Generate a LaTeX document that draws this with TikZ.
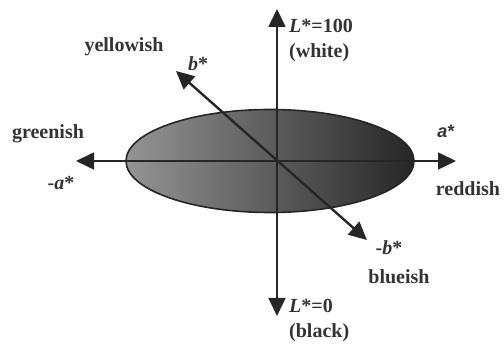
\documentclass[tikz,border=0pt]{standalone}
\usepackage{fontspec}
\setmainfont{Liberation Serif}
\setsansfont{Liberation Sans}
\usepackage{tikz}
\usetikzlibrary{arrows.meta,positioning}

\begin{document}
\begin{tikzpicture}[
  x=1pt,y=-1pt,
  font=\bfseries\fontsize{20}{25}\selectfont,
  axis/.style={line width=1.6pt,draw=black!85,{Triangle[length=18pt,width=17pt]}-{Triangle[length=18pt,width=17pt]}},
  diag/.style={axis,line width=2.4pt},
  disc/.style={draw=black!85,line width=1.6pt,left color=black!42,middle color=black!30,right color=black!85},
  lbl/.style={inner sep=0pt,text=black!80},
  tag/.style={lbl,anchor=west,align=left}
]
\useasboundingbox (0,0) rectangle (504,347);

% ---------------- the colour disc
\coordinate (o) at (277,161);
\draw[disc] (270,161) ellipse [x radius=144pt, y radius=51.5pt];

% ---------------- axis ends
\coordinate (ltop) at (277,9);
\coordinate (lbot) at (277,316);
\coordinate (aneg) at (76,161);
\coordinate (apos) at (456,161);
\coordinate (bpos) at (176,71);
\coordinate (bneg) at (367,240);

% ---------------- axes
\draw[axis] (lbot) -- (ltop);
\draw[axis] (aneg) -- (apos);
\draw[diag] (bneg) -- (bpos);

% ---------------- labels
\node[tag] (lw) at (289,40) {\textit{L}*=100\\(white)};
\node[tag] (lk) at (289,320) {\textit{L}*=0\\(black)};
\node[lbl] (yel) at (124,47) {yellowish};
\node[lbl] (bp) at (198,64) {\textit{b}*};
\node[lbl] (grn) at (48,134) {greenish};
\node[lbl] (an) at (61,183) {-\textit{a}*};
\node[lbl,font=\sffamily\bfseries\fontsize{18}{20}\selectfont] (ap) at (446,131) {\textit{a}*};
\node[lbl] (red) at (468,189) {reddish};
\node[lbl] (bn) at (389,248) {-\textit{b}*};
\node[lbl] (blu) at (399,277) {blueish};
\end{tikzpicture}
\end{document}
